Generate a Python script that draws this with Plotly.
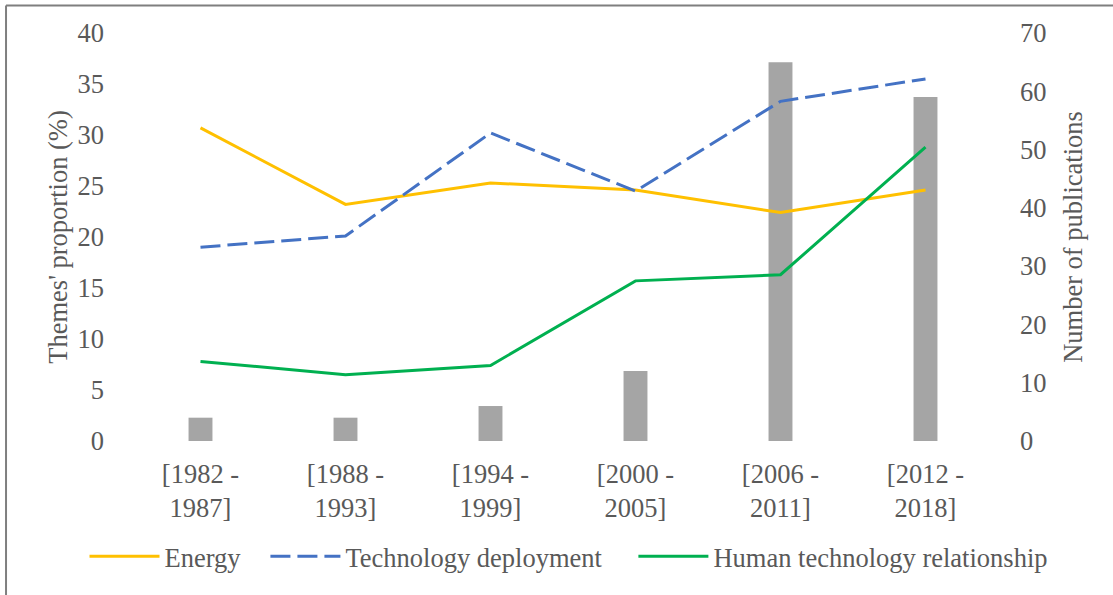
import plotly.graph_objects as go

categories = ["[1982 -<br>1987]", "[1988 -<br>1993]", "[1994 -<br>1999]",
              "[2000 -<br>2005]", "[2006 -<br>2011]", "[2012 -<br>2018]"]
publications = [4, 4, 6, 12, 65, 59]
energy = [30.7, 23.2, 25.3, 24.6, 22.4, 24.6]
tech_deployment = [19.0, 20.1, 30.2, 24.5, 33.3, 35.5]
human_tech = [7.8, 6.5, 7.4, 15.7, 16.3, 28.8]

left_ticks = [0, 5, 10, 15, 20, 25, 30, 35, 40]
right_ticks = [0, 10, 20, 30, 40, 50, 60, 70]

FONT = "Liberation Serif"
TXT = "#595959"
FS = 26.5
NB = "\u00a0"

fig = go.Figure()
fig.add_trace(go.Bar(x=categories, y=publications, name="Number of publications",
                     marker=dict(color="#A5A5A5", line=dict(width=0)),
                     yaxis="y", showlegend=False))
fig.add_trace(go.Scatter(x=categories, y=energy, name="Energy" + NB * 3, mode="lines",
                         line=dict(color="#FFC000", width=3), yaxis="y2"))
fig.add_trace(go.Scatter(x=categories, y=tech_deployment, name="Technology deployment" + NB * 4,
                         mode="lines", line=dict(color="#4472C4", width=3, dash="20px,7px"),
                         yaxis="y2"))
fig.add_trace(go.Scatter(x=categories, y=human_tech, name="Human technology relationship",
                         mode="lines", line=dict(color="#00B050", width=3), yaxis="y2"))

fig.update_layout(
    width=1113, height=595,
    margin=dict(l=128, r=115, t=33, b=154, autoexpand=False),
    paper_bgcolor="white", plot_bgcolor="white",
    font=dict(family=FONT, size=FS, color=TXT),
    bargap=0.835,
    xaxis=dict(showgrid=False, showline=False, zeroline=False, ticks="", automargin=False,
               ticklabelstandoff=14,
               tickfont=dict(family=FONT, size=FS, color=TXT)),
    yaxis=dict(side="right", range=[0, 70], tickvals=right_ticks, showgrid=False,
               zeroline=False, showline=False, ticklabelstandoff=21, automargin=False,
               tickfont=dict(family=FONT, size=FS, color=TXT),
               title=dict(text="Number of publications", font=dict(family=FONT, size=FS, color=TXT), standoff=17)),
    yaxis2=dict(side="left", overlaying="y", range=[0, 40], tickvals=left_ticks, showgrid=False,
                zeroline=False, showline=False, ticklabelstandoff=23, automargin=False,
                tickfont=dict(family=FONT, size=FS, color=TXT),
                title=dict(text="Themes' proportion (%)", font=dict(family=FONT, size=FS, color=TXT), standoff=2)),
    legend=dict(orientation="h", x=-0.050, xanchor="left", y=-0.283, yanchor="middle",
                font=dict(family=FONT, size=FS, color=TXT), itemwidth=70),
    shapes=[
        dict(type="line", xref="paper", yref="paper", x0=-0.1402, x1=1.3, y0=1.0674, y1=1.0674,
             line=dict(color="#7F7F7F", width=2), layer="below"),
        dict(type="line", xref="paper", yref="paper", x0=-0.1402, x1=-0.1402, y0=-0.5, y1=1.0674,
             line=dict(color="#7F7F7F", width=2), layer="below"),
    ],
)

fig.write_html("out.html", config={"displayModeBar": False},
               post_script="document.body.style.margin='0';")
